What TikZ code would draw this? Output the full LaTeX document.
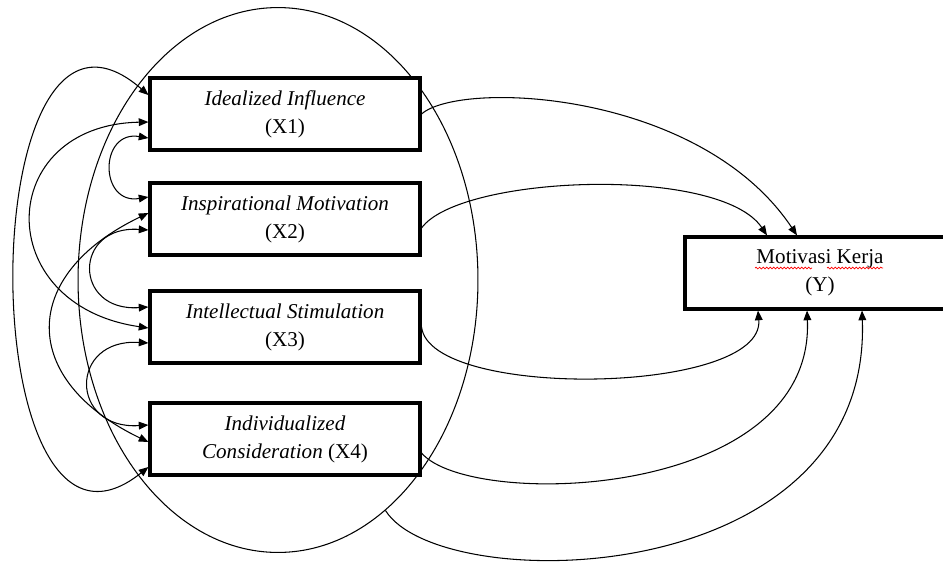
\documentclass[tikz,border=0pt]{standalone}
\usepackage{fontspec}
\setmainfont{Liberation Serif}
\usetikzlibrary{arrows.meta,calc,shapes.geometric,decorations.pathmorphing}

\begin{document}
\begin{tikzpicture}[x=0.02cm,y=-0.02cm,
  >={Triangle[length=5.5pt,width=4.4pt]},
  var/.style={draw,line width=1.8pt,fill=white,minimum width=5.4cm,minimum height=1.44cm,
    inner sep=0pt,align=center,font=\fontsize{12}{16}\selectfont},
  link/.style={line width=0.6pt},
  spell/.style={red,line width=0.4pt,decorate,decoration={snake,amplitude=0.5pt,segment length=2pt}}]

\useasboundingbox (0,0) rectangle (943,562);

\node[ellipse,draw,line width=0.6pt,minimum width=8cm,minimum height=10.9cm,inner sep=0pt] (ell) at (278,280) {};

\foreach \i/\y/\name in {1/114/Idealized Influence,2/219/Inspirational Motivation,3/327/Intellectual Stimulation}
  \node[var] (x\i) at (285,\y) {\textit{\name}\\(X\i)};
\node[var] (x4) at (285,439) {\textit{Individualized}\\\textit{Consideration} (X4)};

\node[var] (y) at (820,273) {Motivasi Kerja\\(Y)};
\draw[spell] ($(y.center)+(-65,-5)$) -- ($(y.center)+(-8,-5)$);
\draw[spell] ($(y.center)+(7,-5)$) -- ($(y.center)+(63,-5)$);

% correlations between the X variables
\draw[link,<->] ($(x1.west)+(0,-19)$) .. controls (-30,-60) and (-30,610) .. ($(x4.west)+(0,28)$);
\draw[link,<->] ($(x1.west)+(0,8)$) .. controls (-5,125) and (-10,305) .. ($(x3.west)+(0,1)$);
\draw[link,<->] ($(x1.west)+(0,24)$) .. controls (99,130) and (99,205) .. ($(x2.west)+(0,-22)$);
\draw[link,<->] ($(x2.west)+(0,-6)$) .. controls (19,275) and (19,380) .. ($(x4.west)+(0,3)$);
\draw[link,<->] ($(x2.west)+(0,11)$) .. controls (73,225) and (73,312) .. ($(x3.west)+(0,-20)$);
\draw[link,<->] ($(x3.west)+(0,16)$) .. controls (69,338) and (69,430) .. ($(x4.west)+(0,-14)$);

% paths to Y
\draw[link,->] (x1.east) .. controls (460,80) and (700,90) .. ($(y.north)+(-23,0)$);
\draw[link,->] ($(x2.east)+(0,9)$) .. controls (460,175) and (720,165) .. ($(y.north)+(-53,0)$);
\draw[link,->] (x3.east) .. controls (430,400) and (765,395) .. ($(y.south)+(-62,0)$);
\draw[link,->] ($(x4.east)+(0,14)$) .. controls (470,510) and (815,500) .. ($(y.south)+(-13,0)$);
\draw[link,->] (ell.-65.6) .. controls (440,598) and (872,592) .. ($(y.south)+(42,0)$);

\end{tikzpicture}
\end{document}
